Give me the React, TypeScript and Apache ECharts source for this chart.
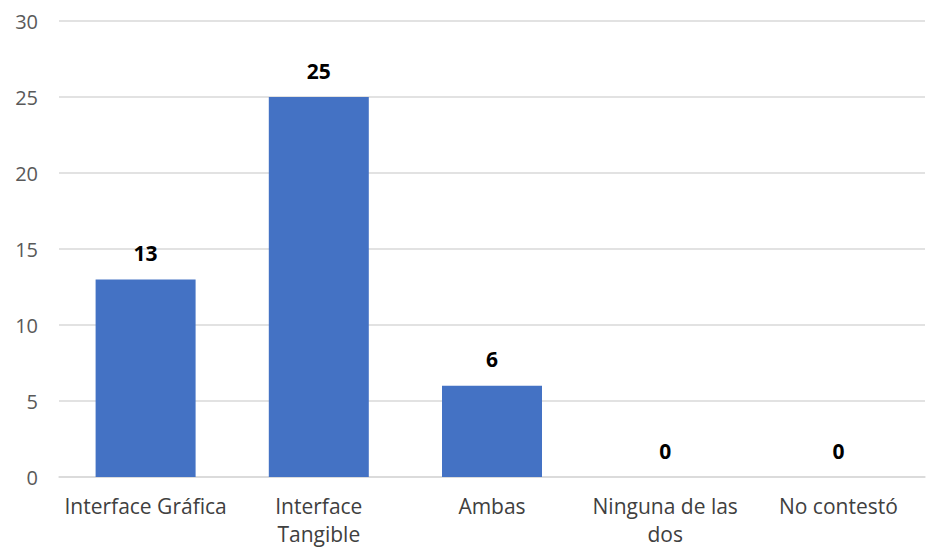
import React, { useEffect, useRef } from "react";
import * as echarts from "echarts";

const categories = [
  "Interface Gráfica",
  "Interface\nTangible",
  "Ambas",
  "Ninguna de las\ndos",
  "No contestó",
];
const values = [13, 25, 6, 0, 0];
const yTicks = { min: 0, max: 30, interval: 5 };

export default function App() {
  const ref = useRef<HTMLDivElement>(null);
  useEffect(() => {
    if (!ref.current) return;
    const chart = echarts.init(ref.current, undefined, { renderer: "svg" });
    chart.setOption({
      animation: false,
      grid: {
        left: 59,
        right: 2,
        top: 21,
        bottom: 71,
        containLabel: false,
        outerBoundsMode: "none",
      },
      xAxis: {
        type: "category",
        data: categories,
        axisLine: { show: true, lineStyle: { color: "#D9D9D9", width: 1.5 } },
        axisTick: { show: false },
        axisLabel: {
          color: "#404040",
          fontFamily: "Open Sans",
          fontSize: 21,
          margin: 15,
          lineHeight: 28,
          interval: 0,
        },
      },
      yAxis: {
        type: "value",
        min: yTicks.min,
        max: yTicks.max,
        interval: yTicks.interval,
        axisLine: { show: false },
        axisTick: { show: false },
        splitLine: { lineStyle: { color: "#D9D9D9", width: 1.5 } },
        axisLabel: {
          color: "#595959",
          fontFamily: "Open Sans",
          fontSize: 20,
          margin: 21,
        },
      },
      series: [
        {
          type: "bar",
          data: values,
          barWidth: 100,
          itemStyle: { color: "#4472C4" },
          label: {
            show: true,
            position: "top",
            distance: 16,
            color: "#000000",
            fontWeight: "bold",
            fontFamily: "Open Sans",
            fontSize: 21,
          },
        },
      ],
    });
    return () => chart.dispose();
  }, []);
  return (
    <div
      ref={ref}
      style={{ position: "fixed", left: 0, top: 0, width: 927, height: 548, background: "#fff" }}
    />
  );
}
